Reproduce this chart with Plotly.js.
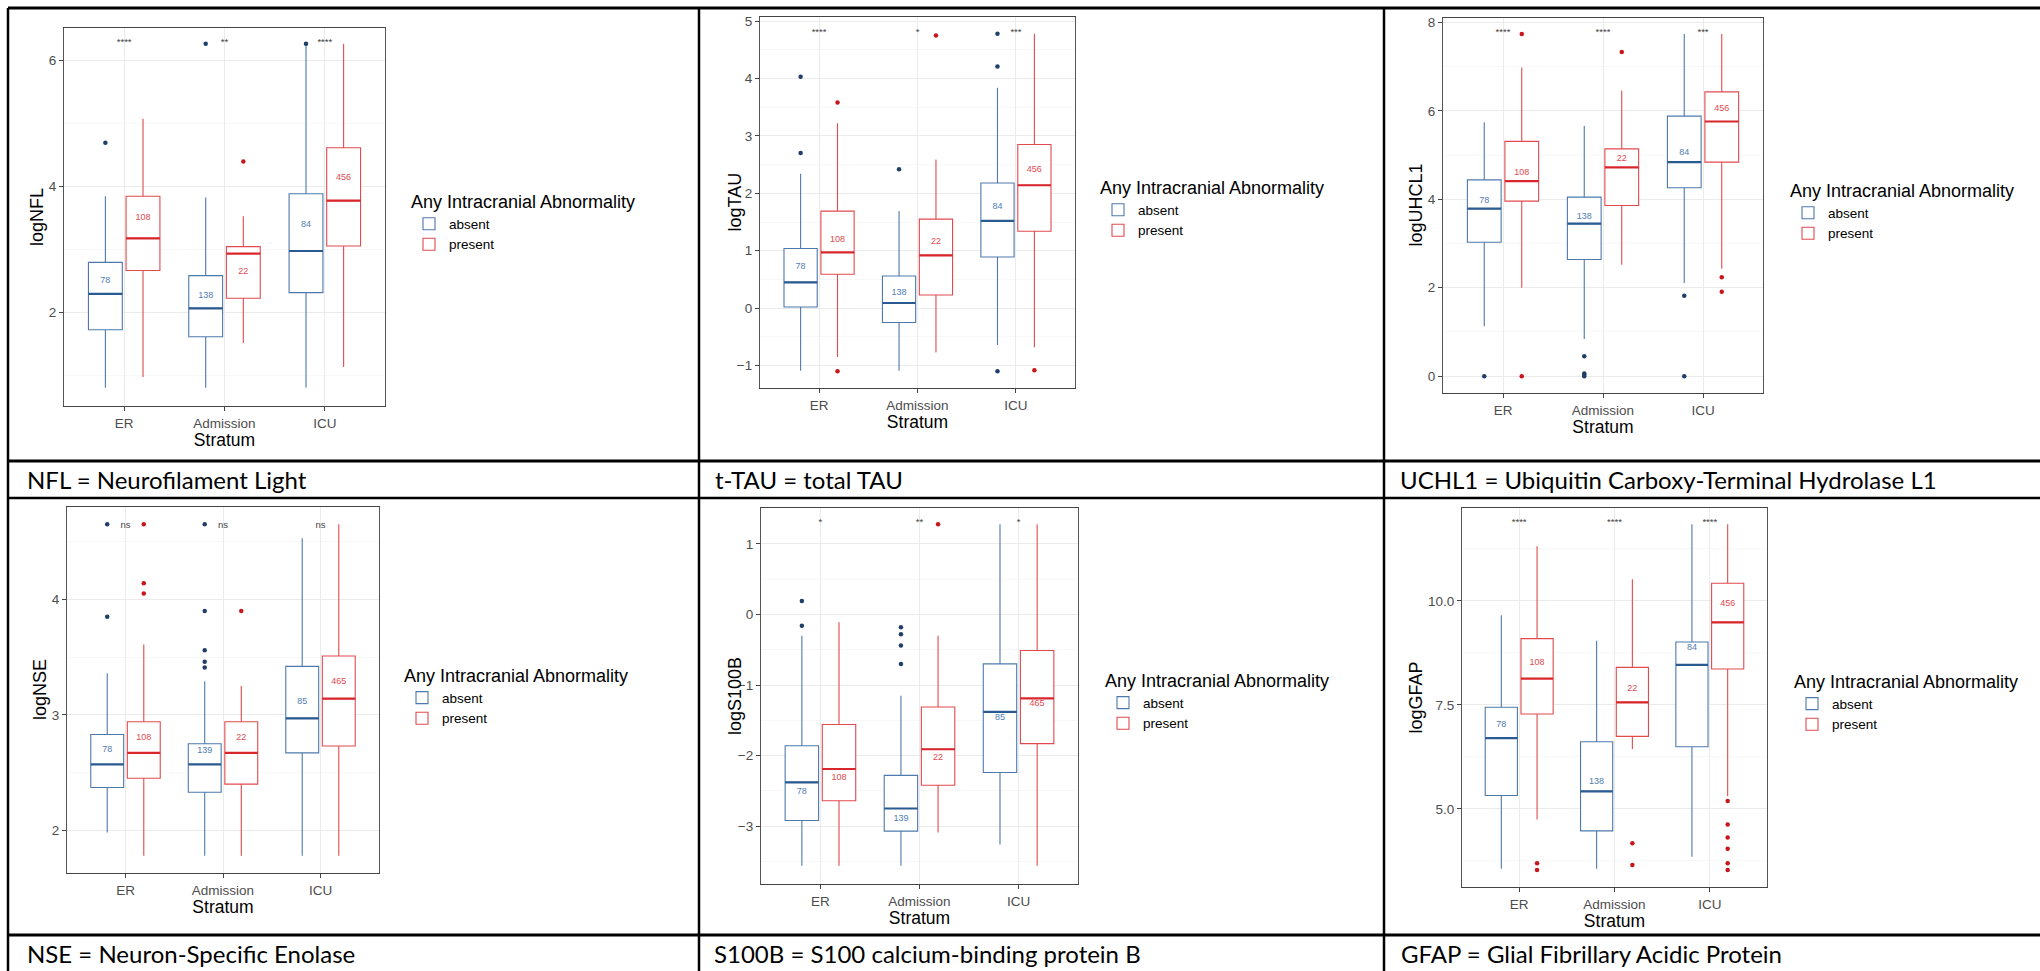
<!DOCTYPE html>
<html>
<head>
<meta charset="utf-8">
<script src="https://cdn.plot.ly/plotly-3.0.1.min.js"></script>
<style>
  html, body { margin: 0; padding: 0; background: #ffffff; }
  #chart { width: 2040px; height: 971px; }
</style>
</head>
<body>
<div id="chart"></div>
<script>
// ---------------- DATA ----------------
const strata = ["ER", "Admission", "ICU"];
const groups = ["absent", "present"];
const legendTitle = "Any Intracranial Abnormality";
const xTitle = "Stratum";

// box stats per stratum: [lowerfence, q1, median, q3, upperfence]
const nflAbsent  = [[0.81, 1.73, 2.30, 2.80, 3.85], [0.81, 1.62, 2.07, 2.59, 3.83], [0.81, 2.32, 2.98, 3.89, 6.27]];
const nflPresent = [[0.98, 2.67, 3.18, 3.85, 5.08], [1.52, 2.23, 2.94, 3.05, 3.53], [1.14, 3.06, 3.78, 4.62, 6.27]];
const nflAbsentOut  = [[4.70], [6.27], [6.27]];
const nflPresentOut = [[], [4.40], []];
const nflAbsentN  = ["78", "138", "84"];
const nflPresentN = ["108", "22", "456"];
const nflAbsentNY  = [2.51, 2.27, 3.39];
const nflPresentNY = [3.51, 2.65, 4.15];
const nflSig = ["****", "**", "****"];
const nflSigY = 6.28;

const tauAbsent  = [[-1.09, 0.02, 0.45, 1.04, 2.34], [-1.09, -0.25, 0.09, 0.56, 1.69], [-0.64, 0.89, 1.52, 2.18, 3.84]];
const tauPresent = [[-0.85, 0.59, 0.97, 1.69, 3.22], [-0.77, 0.23, 0.92, 1.55, 2.59], [-0.68, 1.34, 2.14, 2.85, 4.78]];
const tauAbsentOut  = [[4.03, 2.70], [2.42], [4.78, 4.21, -1.10]];
const tauPresentOut = [[3.58, -1.10], [4.75], [-1.08]];
const tauAbsentN  = ["78", "138", "84"];
const tauPresentN = ["108", "22", "456"];
const tauAbsentNY  = [0.72, 0.27, 1.77];
const tauPresentNY = [1.20, 1.16, 2.41];
const tauSig = ["****", "*", "***"];
const tauSigY = 4.80;

const uchAbsent  = [[1.13, 3.03, 3.79, 4.44, 5.74], [0.84, 2.64, 3.45, 4.05, 5.66], [2.11, 4.26, 4.84, 5.88, 7.74]];
const uchPresent = [[2.00, 3.96, 4.41, 5.31, 6.98], [2.52, 3.86, 4.72, 5.14, 6.46], [2.43, 4.84, 5.76, 6.43, 7.74]];
const uchAbsentOut  = [[0.00], [0.45, 0.06, 0.03, 0.00], [1.82, 0.00]];
const uchPresentOut = [[7.74, 0.00], [7.33], [2.24, 1.91]];
const uchAbsentN  = ["78", "138", "84"];
const uchPresentN = ["108", "22", "456"];
const uchAbsentNY  = [3.96, 3.60, 5.06];
const uchPresentNY = [4.61, 4.92, 6.05];
const uchSig = ["****", "****", "***"];
const uchSigY = 7.76;

const nseAbsent  = [[1.98, 2.37, 2.57, 2.83, 3.36], [1.78, 2.33, 2.57, 2.75, 3.29], [1.78, 2.67, 2.97, 3.42, 4.53]];
const nsePresent = [[1.78, 2.45, 2.67, 2.94, 3.61], [1.78, 2.40, 2.67, 2.94, 3.25], [1.78, 2.73, 3.14, 3.51, 4.65]];
const nseAbsentOut  = [[4.65, 3.85], [4.65, 3.90, 3.56, 3.46, 3.41], []];
const nsePresentOut = [[4.65, 4.14, 4.05], [3.90], []];
const nseAbsentN  = ["78", "139", "85"];
const nsePresentN = ["108", "22", "465"];
const nseAbsentNY  = [2.70, 2.69, 3.11];
const nsePresentNY = [2.80, 2.80, 3.29];
const nseSig = ["ns", "ns", "ns"];
const nseSigY = 4.64;

const s100Absent  = [[-3.56, -2.92, -2.38, -1.86, -0.30], [-3.56, -3.07, -2.75, -2.28, -1.15], [-3.26, -2.24, -1.38, -0.70, 1.28]];
const s100Present = [[-3.56, -2.64, -2.19, -1.56, -0.11], [-3.09, -2.42, -1.91, -1.31, -0.30], [-3.56, -1.83, -1.19, -0.51, 1.28]];
const s100AbsentOut  = [[0.19, -0.16], [-0.18, -0.28, -0.44, -0.70], []];
const s100PresentOut = [[], [1.28], []];
const s100AbsentN  = ["78", "139", "85"];
const s100PresentN = ["108", "22", "465"];
const s100AbsentNY  = [-2.51, -2.90, -1.47];
const s100PresentNY = [-2.31, -2.03, -1.26];
const s100Sig = ["*", "**", "*"];
const s100SigY = 1.30;

const gfapAbsent  = [[3.56, 5.32, 6.70, 7.44, 9.65], [3.56, 4.47, 5.42, 6.61, 9.04], [3.85, 6.49, 8.46, 9.01, 11.84]];
const gfapPresent = [[4.74, 7.28, 8.13, 9.09, 11.31], [6.44, 6.74, 7.56, 8.40, 10.52], [5.30, 8.36, 9.48, 10.42, 11.84]];
const gfapAbsentOut  = [[], [], []];
const gfapPresentOut = [[3.69, 3.53], [4.17, 3.65], [5.19, 4.62, 4.31, 4.04, 3.69, 3.53]];
const gfapAbsentN  = ["78", "138", "84"];
const gfapPresentN = ["108", "22", "456"];
const gfapAbsentNY  = [7.01, 5.66, 8.86];
const gfapPresentNY = [8.50, 7.88, 9.93];
const gfapSig = ["****", "****", "****"];
const gfapSigY = 11.87;

const yTitles = ["logNFL", "logTAU", "logUHCL1", "logNSE", "logS100B", "logGFAP"];
const captions = [
  "NFL = Neurofilament Light",
  "t-TAU = total TAU",
  "UCHL1 = Ubiquitin Carboxy-Terminal Hydrolase L1",
  "NSE = Neuron-Specific Enolase",
  "S100B = S100 calcium-binding protein B",
  "GFAP = Glial Fibrillary Acidic Protein"
];

// ---------------- LAYOUT / STYLE ----------------
const W = 2040, H = 971;
const px = v => v / W;
const py = v => 1 - v / H;

const FONT = "Liberation Sans, Arial, sans-serif";
const CAPFONT = "Lato, Carlito, Calibri, sans-serif";
const colors = {
  absent:  { line: "#4D79AD", median: "#2A5A92", out: "#1F3F6A", text: "#4F7DB5" },
  present: { line: "#E24A4F", median: "#D8262C", out: "#C8161C", text: "#E04A4F" }
};
const DODGE = 0.1875, BOXW = 0.3375;

// plot areas in pixels [left, right, top, bottom]
const areas = [
  [64, 385, 28, 406],
  [760, 1075, 17, 388],
  [1443, 1763, 18, 393],
  [67, 379, 507, 873],
  [761, 1078, 508, 884],
  [1462, 1767, 508, 887]
];
const yTitleX = [37, 735, 1415, 40, 735, 1415];
const yRanges = [[0.52, 6.52], [-1.39, 5.07], [-0.38, 8.10], [1.63, 4.80], [-3.82, 1.51], [3.12, 12.23]];
const yDticks = [2, 1, 2, 1, 1, 2.5];
const yMinor  = [1, 0.5, 1, 0.5, 0.5, 1.25];
const legendPos = [[409, 185], [1098, 171], [1788, 174], [402, 659], [1103, 664], [1792, 665]];
const captionPos = [[25, 479], [713, 479], [1398, 479], [25, 953], [712, 953], [1399, 953]];

const panels = [
  { a: nflAbsent, p: nflPresent, ao: nflAbsentOut, po: nflPresentOut, an: nflAbsentN, pn: nflPresentN, any: nflAbsentNY, pny: nflPresentNY, sig: nflSig, sigY: nflSigY },
  { a: tauAbsent, p: tauPresent, ao: tauAbsentOut, po: tauPresentOut, an: tauAbsentN, pn: tauPresentN, any: tauAbsentNY, pny: tauPresentNY, sig: tauSig, sigY: tauSigY },
  { a: uchAbsent, p: uchPresent, ao: uchAbsentOut, po: uchPresentOut, an: uchAbsentN, pn: uchPresentN, any: uchAbsentNY, pny: uchPresentNY, sig: uchSig, sigY: uchSigY },
  { a: nseAbsent, p: nsePresent, ao: nseAbsentOut, po: nsePresentOut, an: nseAbsentN, pn: nsePresentN, any: nseAbsentNY, pny: nsePresentNY, sig: nseSig, sigY: nseSigY },
  { a: s100Absent, p: s100Present, ao: s100AbsentOut, po: s100PresentOut, an: s100AbsentN, pn: s100PresentN, any: s100AbsentNY, pny: s100PresentNY, sig: s100Sig, sigY: s100SigY },
  { a: gfapAbsent, p: gfapPresent, ao: gfapAbsentOut, po: gfapPresentOut, an: gfapAbsentN, pn: gfapPresentN, any: gfapAbsentNY, pny: gfapPresentNY, sig: gfapSig, sigY: gfapSigY }
];

const traces = [];
const shapes = [];
const annotations = [];
const layout = {
  width: W, height: H,
  margin: { l: 0, r: 0, t: 0, b: 0 },
  paper_bgcolor: "#ffffff",
  plot_bgcolor: "#ffffff",
  boxmode: "overlay",
  showlegend: true,
  font: { family: FONT, color: "#000000" }
};

panels.forEach((pan, k) => {
  const n = k + 1;
  const xa = n === 1 ? "x" : "x" + n;
  const ya = n === 1 ? "y" : "y" + n;
  const legId = n === 1 ? "legend" : "legend" + n;
  const [l, r, t, b] = areas[k];

  groups.forEach((g, gi) => {
    const stats = gi === 0 ? pan.a : pan.p;
    const outs = gi === 0 ? pan.ao : pan.po;
    const nLab = gi === 0 ? pan.an : pan.pn;
    const nY = gi === 0 ? pan.any : pan.pny;
    const off = gi === 0 ? -DODGE : DODGE;
    const c = colors[g];
    const xs = strata.map((s, i) => i + off);

    traces.push({
      type: "box", name: g, legend: legId, showlegend: true,
      xaxis: xa, yaxis: ya,
      x: xs,
      lowerfence: stats.map(s => s[0]),
      q1: stats.map(s => s[1]),
      median: stats.map(s => s[2]),
      q3: stats.map(s => s[3]),
      upperfence: stats.map(s => s[4]),
      width: BOXW, whiskerwidth: 0, boxpoints: false,
      line: { color: c.line, width: 1.1 },
      fillcolor: "#ffffff",
      hoverinfo: "skip"
    });

    // thicker median lines, like ggplot
    stats.forEach((s, i) => {
      shapes.push({
        type: "line", xref: xa, yref: ya,
        x0: xs[i] - BOXW / 2, x1: xs[i] + BOXW / 2, y0: s[2], y1: s[2],
        line: { color: c.median, width: 2.2 }
      });
    });

    // outliers
    const ox = [], oy = [];
    outs.forEach((arr, i) => arr.forEach(v => { ox.push(xs[i]); oy.push(v); }));
    traces.push({
      type: "scatter", mode: "markers", showlegend: false,
      xaxis: xa, yaxis: ya, x: ox, y: oy,
      marker: { size: 4.5, color: c.out },
      hoverinfo: "skip"
    });

    // n labels
    traces.push({
      type: "scatter", mode: "text", showlegend: false,
      xaxis: xa, yaxis: ya, x: xs, y: nY, text: nLab,
      textfont: { size: 9, color: c.text, family: FONT },
      textposition: "middle center",
      hoverinfo: "skip"
    });
  });

  // significance stars
  traces.push({
    type: "scatter", mode: "text", showlegend: false,
    xaxis: xa, yaxis: ya, x: strata.map((s, i) => i), y: strata.map(() => pan.sigY),
    text: pan.sig,
    textfont: { size: 9.5, color: "#444444", family: FONT },
    textposition: "middle center",
    hoverinfo: "skip"
  });

  const xKey = n === 1 ? "xaxis" : "xaxis" + n;
  const yKey = n === 1 ? "yaxis" : "yaxis" + n;
  layout[xKey] = {
    domain: [px(l), px(r)], anchor: ya,
    range: [-0.6, 2.6], tickvals: [0, 1, 2], ticktext: strata,
    showgrid: true, gridcolor: "#EBEBEB", gridwidth: 1,
    zeroline: false, showline: true, mirror: true, linecolor: "#444444", linewidth: 1.3,
    ticks: "outside", ticklen: 4, tickcolor: "#444444", tickwidth: 1,
    tickfont: { size: 13.5, color: "#4D4D4D", family: FONT },
    title: { text: xTitle, font: { size: 17.5, color: "#000000", family: FONT }, standoff: 3 },
    automargin: false, fixedrange: true
  };
  layout[yKey] = {
    domain: [py(b), py(t)], anchor: xa,
    range: yRanges[k], tick0: 0, dtick: yDticks[k],
    tickformat: k === 5 ? ".1f" : "",
    showgrid: true, gridcolor: "#EBEBEB", gridwidth: 1,
    minor: { dtick: yMinor[k], tick0: 0, showgrid: true, gridcolor: "#F3F3F3", gridwidth: 0.7, ticks: "" },
    zeroline: false, showline: true, mirror: true, linecolor: "#555555", linewidth: 1.1,
    ticks: "outside", ticklen: 4, tickcolor: "#444444", tickwidth: 1,
    tickfont: { size: 13.5, color: "#4D4D4D", family: FONT },
    automargin: false, fixedrange: true
  };
  layout[legId] = {
    x: px(legendPos[k][0]), y: py(legendPos[k][1]),
    xanchor: "left", yanchor: "top",
    bgcolor: "rgba(0,0,0,0)", borderwidth: 0,
    title: { text: legendTitle, font: { size: 18, color: "#000000", family: FONT } },
    font: { size: 13.5, color: "#000000", family: FONT },
    itemwidth: 30, tracegroupgap: 0
  };

  // y-axis title
  annotations.push({
    xref: "paper", yref: "paper", x: px(yTitleX[k]), y: py((t + b) / 2),
    xanchor: "center", yanchor: "middle", showarrow: false, textangle: -90,
    text: yTitles[k], font: { size: 18, color: "#000000", family: FONT }
  });

  annotations.push({
    xref: "paper", yref: "paper", x: px(captionPos[k][0]), y: py(captionPos[k][1]),
    xanchor: "left", yanchor: "middle", showarrow: false,
    text: captions[k], font: { size: 24, color: "#000000", family: CAPFONT }
  });
});

// table grid lines (Word table around the figures)
const hLines = [[8, 3], [461, 3], [498, 2.5], [935, 3]];
const vLines = [[8, 2.5], [699, 2.5], [1384, 2.5]];
hLines.forEach(([y, w]) => shapes.push({
  type: "line", xref: "paper", yref: "paper", x0: px(8), x1: 1, y0: py(y), y1: py(y),
  line: { color: "#000000", width: w }
}));
vLines.forEach(([x, w]) => shapes.push({
  type: "line", xref: "paper", yref: "paper", x0: px(x), x1: px(x), y0: py(8), y1: 0,
  line: { color: "#000000", width: w }
}));

layout.shapes = shapes;
layout.annotations = annotations;

Plotly.newPlot("chart", traces, layout, { displayModeBar: false, staticPlot: true });
</script>
</body>
</html>
